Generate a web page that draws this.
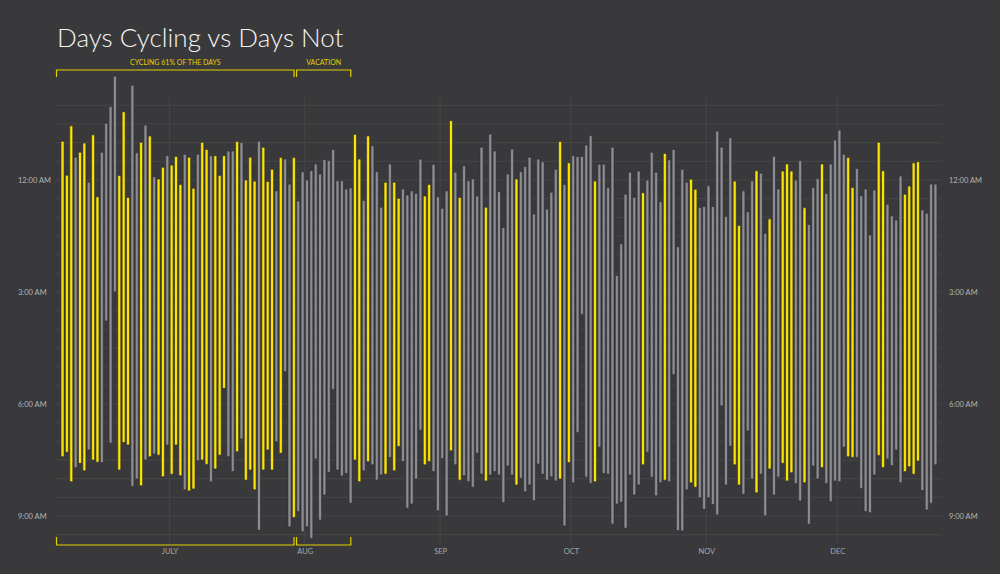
<!DOCTYPE html>
<html>
<head>
<meta charset="utf-8">
<script src="https://cdn.jsdelivr.net/npm/d3@7"></script>
<style>
  html, body { margin: 0; padding: 0; background: #39393b; }
  svg { display: block; font-family: Lato, 'Open Sans', sans-serif; }
</style>
</head>
<body>
<div id="chart"></div>
<script>
// one bar per night, starting June 6
var firstDay = new Date(2015, 5, 6)

// hours from midnight (negative = the evening before)
var bedtime = [
  -1.04, -0.13, -1.45, -0.61, -0.74, -0.99, 0.06, -1.21, 0.45, -0.74,
  -1.52, -1.97, -2.78, -0.12, -1.83, 0.47, -2.54, -0.73, -1.01, -1.47,
  -1.18, -0.09, -0.03, -0.34, -0.65, -0.40, -0.63, 0.12, -0.69, -0.61,
  0.22, -0.69, -1.01, -0.82, -0.65, -0.65, -0.12, -0.65, -0.78, -0.78,
  -1.03, -1.01, 0.00, -0.61, 0.03, -1.04, -0.88, 0.04, -0.29, 0.29,
  -0.60, -0.56, 0.11, -0.60, 0.56, -0.22, 0.00, -0.25, -0.43, -0.16,
  -0.55, -0.52, -0.82, 0.02, 0.02, 0.24, 0.21, -1.22, -0.56, 0.55,
  -1.18, -0.92, -0.22, 0.73, 0.06, -0.43, 0.06, 0.49, 0.24, 0.40,
  0.29, 0.36, -0.56, 0.43, 0.12, -0.42, 0.45, 0.76, 0.29, -1.59,
  -0.21, 0.47, -0.38, 0.02, -0.03, 0.43, -0.88, 0.73, -1.23, -0.78,
  0.31, 1.27, -0.16, -0.83, -0.03, -0.22, -0.36, -0.61, 0.91, -0.56,
  -0.49, 0.78, 0.33, -0.29, -1.03, 0.12, -0.46, -0.65, -0.63, -0.63,
  -0.94, -1.19, 0.03, -0.42, -0.42, 0.20, -0.88, 2.56, 1.71, 0.38,
  -0.21, 0.46, -0.24, 0.34, 0.00, -0.74, -0.21, 0.58, -0.71, -0.54,
  -0.82, 1.79, -0.29, 0.06, -0.02, 0.25, 0.74, 0.71, 0.15, 0.71,
  -1.31, -0.88, 0.98, -1.13, 0.03, 1.22, 0.29, 0.85, 0.02, -0.25,
  -0.18, 1.43, 1.04, -0.63, 0.24, -0.24, -0.43, -0.24, 0.00, -0.52,
  0.74, 1.19, 0.20, -0.04, -0.43, 0.36, -0.43, -1.07, -1.34, -0.69,
  -0.60, 0.20, -0.31, 0.42, 0.24, 1.47, 0.27, -1.01, -0.25, 0.65,
  0.96, 1.07, -0.11, 0.38, 0.16, -0.46, -0.49, 0.80, 0.89, 0.11, 0.11
]

var wake = [
  7.41, 7.29, 8.08, 7.70, 7.59, 7.79, 7.23, 7.50, 7.56, 7.57,
  3.78, 7.05, 2.99, 7.77, 7.03, 7.10, 8.21, 8.01, 8.19, 7.50,
  7.41, 7.34, 7.37, 7.95, 7.10, 7.88, 7.10, 7.92, 8.30, 8.33,
  8.28, 7.52, 7.50, 7.62, 8.08, 7.74, 7.37, 5.58, 7.41, 7.81,
  7.28, 6.94, 8.04, 7.77, 8.30, 9.38, 7.77, 7.23, 7.77, 7.01,
  7.32, 5.13, 9.29, 9.04, 8.88, 9.42, 9.29, 9.60, 7.47, 9.11,
  8.44, 7.83, 5.61, 7.77, 7.93, 7.86, 8.66, 7.50, 8.08, 7.79,
  7.54, 7.63, 8.04, 7.90, 7.88, 7.43, 7.79, 7.14, 7.54, 8.79,
  8.68, 8.01, 6.70, 7.63, 7.54, 7.81, 8.86, 7.46, 9.00, 7.25,
  7.63, 8.04, 7.92, 8.08, 8.23, 7.32, 7.88, 8.06, 7.90, 7.81,
  7.90, 8.64, 7.66, 7.90, 8.17, 7.99, 8.35, 8.17, 8.59, 7.61,
  7.88, 8.04, 7.95, 8.06, 8.01, 9.27, 7.57, 8.11, 6.76, 3.60,
  7.96, 8.13, 8.08, 7.16, 7.86, 7.88, 9.22, 8.68, 8.63, 9.33,
  7.90, 8.44, 8.17, 7.63, 7.29, 7.96, 8.46, 8.11, 8.04, 8.08,
  5.21, 9.39, 9.40, 8.30, 8.11, 8.23, 8.51, 8.82, 8.51, 8.69,
  8.97, 6.05, 8.17, 7.13, 7.63, 8.17, 8.42, 6.72, 8.01, 8.38,
  7.88, 8.99, 7.74, 8.44, 7.96, 7.59, 8.06, 7.84, 8.13, 8.60,
  8.11, 9.22, 7.66, 8.01, 7.70, 8.13, 8.62, 8.06, 8.08, 7.16,
  7.41, 7.43, 7.43, 8.26, 8.88, 8.91, 7.90, 7.38, 7.70, 7.47,
  7.65, 7.23, 8.11, 7.81, 7.68, 7.88, 7.53, 8.32, 8.84, 8.66, 7.63
]

// 1 = cycled that day
var cycled = [
  1, 1, 1, 0, 1, 1, 0, 1, 1, 0,
  0, 0, 0, 1, 1, 1, 0, 0, 1, 0,
  1, 0, 1, 1, 0, 1, 1, 1, 0, 1,
  1, 0, 1, 1, 0, 1, 1, 1, 0, 0,
  1, 0, 1, 1, 1, 0, 1, 1, 1, 0,
  1, 0, 0, 1, 0, 0, 0, 0, 0, 0,
  0, 0, 0, 0, 0, 0, 0, 1, 1, 0,
  1, 0, 0, 0, 1, 0, 1, 1, 0, 0,
  0, 0, 0, 1, 1, 0, 0, 0, 0, 1,
  0, 1, 0, 0, 0, 0, 0, 1, 0, 0,
  0, 0, 0, 0, 1, 0, 0, 0, 0, 0,
  0, 0, 0, 0, 1, 0, 1, 0, 0, 0,
  0, 0, 1, 0, 0, 0, 0, 0, 0, 0,
  0, 0, 0, 1, 0, 0, 0, 0, 1, 0,
  0, 0, 0, 0, 1, 1, 0, 0, 0, 0,
  0, 0, 0, 0, 1, 1, 0, 0, 0, 1,
  0, 0, 1, 0, 0, 1, 1, 1, 0, 0,
  1, 0, 0, 0, 1, 0, 0, 0, 0, 0,
  1, 1, 0, 0, 0, 0, 0, 1, 1, 0,
  0, 0, 0, 1, 1, 1, 1, 0, 0, 0, 0
]

var hourTicks = [0, 3, 6, 9]
var hourTickLabels = ['12:00 AM', '3:00 AM', '6:00 AM', '9:00 AM']
var monthLabels = ['JULY', 'AUG', 'SEP', 'OCT', 'NOV', 'DEC']

var brackets = [
  { label: 'CYCLING 61% OF THE DAYS', start: new Date(2015, 5, 5), end: new Date(2015, 6, 30) },
  { label: 'VACATION', start: new Date(2015, 6, 30), end: new Date(2015, 7, 12) }
]

var W = 1000
var H = 574
var yellow = '#fde500'
var grey = '#8e8e90'
var gridColor = '#464648'

var nights = bedtime.map(function(b, i) {
  return {
    date: d3.timeDay.offset(firstDay, i),
    bed: b,
    wake: wake[i],
    cycled: cycled[i] === 1
  }
})

var x = d3
  .scaleTime()
  .domain([new Date(2015, 5, 5), new Date(2015, 11, 25)])
  .range([56, 942])

var y = d3
  .scaleLinear()
  .domain([-2, 9.5])
  .range([105.33, 534.67])

var svg = d3
  .select('#chart')
  .append('svg')
  .attr('width', W)
  .attr('height', H)

svg
  .append('rect')
  .attr('width', W)
  .attr('height', H)
  .attr('fill', '#39393b')

svg
  .append('text')
  .attr('x', 57)
  .attr('y', 47)
  .attr('font-size', '26px')
  .attr('font-weight', 300)
  .attr('fill', '#f4f4f4')
  .text('Days Cycling vs Days Not')

// half-hour grid
svg
  .append('g')
  .attr('class', 'grid')
  .selectAll('line')
  .data(d3.range(-2, 9.51, 0.5))
  .enter()
  .append('line')
  .attr('x1', x.range()[0])
  .attr('x2', x.range()[1])
  .attr('y1', function(d) { return y(d) })
  .attr('y2', function(d) { return y(d) })
  .attr('stroke', gridColor)
  .attr('stroke-width', 1)

var months = d3.timeMonth.range(new Date(2015, 6, 1), new Date(2015, 11, 2))

svg
  .append('g')
  .attr('class', 'month-lines')
  .selectAll('line')
  .data(months)
  .enter()
  .append('line')
  .attr('x1', function(d) { return x(d) })
  .attr('x2', function(d) { return x(d) })
  .attr('y1', 98)
  .attr('y2', 543)
  .attr('stroke', gridColor)
  .attr('stroke-width', 1)

// bars
svg
  .append('g')
  .attr('class', 'bars')
  .selectAll('rect')
  .data(nights)
  .enter()
  .append('rect')
  .attr('x', function(d) { return x(d3.timeHour.offset(d.date, 12)) - 1.5 })
  .attr('width', 3)
  .attr('y', function(d) { return y(d.bed) })
  .attr('height', function(d) { return y(d.wake) - y(d.bed) })
  .attr('rx', 1)
  .attr('fill', function(d) { return d.cycled ? yellow : grey })
  .attr('stroke', '#2a2a36')
  .attr('stroke-width', 0.6)

// hour labels, left and right
function hourAxis(xPos) {
  var axis = d3
    .axisRight(y)
    .tickValues(hourTicks)
    .tickFormat(function(d, i) { return hourTickLabels[i] })
    .tickSize(0)
    .tickPadding(0)
  var g = svg
    .append('g')
    .attr('transform', 'translate(' + xPos + ',0)')
    .call(axis)
  g.select('.domain').remove()
  g.selectAll('text')
    .attr('font-family', 'Lato, sans-serif')
    .attr('font-size', '7.5px')
    .attr('fill', '#b4b4b4')
}
hourAxis(18)
hourAxis(949)

var monthAxis = d3
  .axisBottom(x)
  .tickValues(months)
  .tickFormat(function(d, i) { return monthLabels[i] })
  .tickSize(0)
  .tickPadding(0)

var mg = svg
  .append('g')
  .attr('transform', 'translate(0,549)')
  .call(monthAxis)
mg.select('.domain').remove()
mg.selectAll('text')
  .attr('font-family', 'Lato, sans-serif')
  .attr('font-size', '7.5px')
  .attr('fill', '#a8a8a8')

// brackets above and below
var bracketColor = '#e3d000'

brackets.forEach(function(b) {
  var x0 = x(b.start) + 0.5
  var x1 = x(b.end) - 2
  svg
    .append('path')
    .attr('d', 'M' + x0 + ',77V70H' + x1 + 'V77')
    .attr('fill', 'none')
    .attr('stroke', bracketColor)
    .attr('stroke-width', 1.2)
  svg
    .append('path')
    .attr('d', 'M' + x0 + ',537V545H' + x1 + 'V537')
    .attr('fill', 'none')
    .attr('stroke', bracketColor)
    .attr('stroke-width', 1.2)
  svg
    .append('text')
    .attr('x', (x0 + x1) / 2)
    .attr('y', 65)
    .attr('text-anchor', 'middle')
    .attr('font-size', '7px')
    .attr('fill', bracketColor)
    .text(b.label)
})
</script>
</body>
</html>
